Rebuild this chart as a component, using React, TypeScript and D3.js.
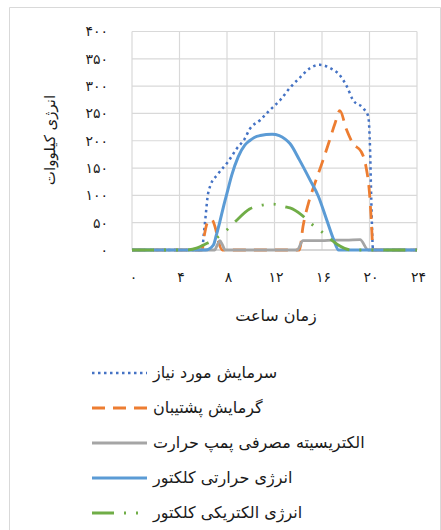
import { useEffect, useRef } from 'react';
import * as d3 from 'd3';

type Pt = [number, number];

// hour, kW
const coolingDemand: Pt[] = [
  [0, 0], [5.9, 0], [6.05, 30], [6.2, 62], [6.35, 95], [6.6, 118], [7.2, 138], [8.1, 162],
  [8.8, 185], [9.5, 204], [9.9, 221], [10.8, 238], [11.6, 256], [12.5, 275], [13.3, 297],
  [14.2, 317], [15, 333], [15.8, 339], [16.7, 333], [17.5, 320], [18.1, 299], [18.6, 275],
  [19.5, 259], [19.9, 244], [20.05, 183], [20.15, 92], [20.3, 0], [24, 0],
];
const backupHeating: Pt[] = [
  [0, 0], [5.9, 0], [6.1, 28], [6.35, 50], [6.7, 56], [7.0, 42], [7.3, 14], [7.6, 0],
  [14.1, 0], [14.4, 43], [14.85, 85], [15.4, 122], [16, 159], [16.55, 195], [17.1, 232],
  [17.5, 255], [18.07, 220], [18.6, 195], [19.3, 180], [19.7, 153], [20, 104], [20.15, 55],
  [20.3, 0], [24, 0],
];
const heatPumpPower: Pt[] = [
  [0, 0], [6.95, 0], [7.2, 10], [7.4, 17], [7.6, 10], [7.85, 0], [13.9, 0], [14.4, 17],
  [16, 17], [17, 18], [18, 18], [19.2, 19], [19.9, 0], [24, 0],
];
const collectorThermal: Pt[] = [
  [0, 0], [6.2, 0], [6.85, 9], [7.1, 27], [7.4, 52], [7.7, 79], [8, 104], [8.4, 137],
  [8.95, 171], [9.5, 192], [9.9, 200], [10.3, 206], [10.8, 209.5], [11.8, 212], [12.4, 209.5],
  [12.9, 203], [13.3, 195], [14.1, 165], [15, 128], [15.7, 98], [16.4, 55], [17, 18],
  [17.4, 0], [24, 0],
];
const collectorElectric: Pt[] = [
  [0, 0], [4.5, 0], [5.5, 4], [6.2, 11], [6.85, 18], [8, 37], [8.7, 52], [9.9, 75],
  [10.9, 82], [11.9, 84], [12.9, 79], [13.3, 77], [14.3, 64], [15.1, 48], [16, 33],
  [16.7, 20], [17.3, 10], [17.9, 3], [18.5, 0], [24, 0],
];

const seriesNames = [
  'سرمایش مورد نیاز',
  'گرمایش پشتیبان',
  'الکتریسیته مصرفی پمپ حرارت',
  'انرژی حرارتی کلکتور',
  'انرژی الکتریکی کلکتور',
];
const xTicks = [0, 4, 8, 12, 16, 20, 24];
const yTicks = [0, 50, 100, 150, 200, 250, 300, 350, 400];
const xTitle = 'زمان ساعت';
const yTitle = 'انرژی کیلووات';

const FONT = '"DejaVu Sans", sans-serif';
const TEXT = '#1a1a1a';
const faDigits = (n: number) => String(n).replace(/\d/g, d => '۰۱۲۳۴۵۶۷۸۹'[+d]);

export default function App() {
  const svgRef = useRef<SVGSVGElement>(null);

  useEffect(() => {
    if (!svgRef.current) return;
    const svg = d3.select(svgRef.current);
    svg.selectAll('*').remove();

    const x = d3.scaleLinear().domain([0, 24]).range([132, 417]);
    const y = d3.scaleLinear().domain([0, 400]).range([250, 31.5]);

    // outer chart border
    svg.append('path')
      .attr('d', 'M9.5,540 V7.5 H440.5 V540')
      .attr('fill', 'none')
      .attr('stroke', '#d9d9d9');

    // grid
    yTicks.forEach(t => {
      svg.append('line')
        .attr('x1', x(0)).attr('x2', x(24))
        .attr('y1', y(t)).attr('y2', y(t))
        .attr('stroke', '#d9d9d9').attr('stroke-width', 1.2);
    });
    xTicks.forEach(t => {
      svg.append('line')
        .attr('x1', x(t)).attr('x2', x(t))
        .attr('y1', y(0)).attr('y2', y(400))
        .attr('stroke', '#d9d9d9').attr('stroke-width', 1.2);
    });
    svg.append('line')
      .attr('x1', x(0)).attr('x2', x(24))
      .attr('y1', y(0)).attr('y2', y(0))
      .attr('stroke', '#bfbfbf').attr('stroke-width', 1.2);

    // tick labels
    yTicks.forEach(t => {
      svg.append('text')
        .attr('x', 108).attr('y', y(t))
        .attr('dy', '0.35em')
        .attr('text-anchor', 'end')
        .style('font-family', FONT).style('font-size', '14px').style('letter-spacing', '3px')
        .attr('fill', TEXT)
        .text(faDigits(t));
    });
    xTicks.forEach(t => {
      svg.append('text')
        .attr('x', x(t) + 1.5).attr('y', 277)
        .attr('dy', '0.35em')
        .attr('text-anchor', 'middle')
        .style('font-family', FONT).style('font-size', '14px').style('letter-spacing', '3px')
        .attr('fill', TEXT)
        .text(faDigits(t));
    });

    // axis titles
    svg.append('text')
      .attr('transform', 'translate(50,140) rotate(-90)')
      .attr('dy', '0.35em')
      .attr('text-anchor', 'middle')
      .style('font-family', FONT).style('font-size', '15px').attr('fill', TEXT)
      .text(yTitle);
    svg.append('text')
      .attr('x', 276).attr('y', 315)
      .attr('dy', '0.35em')
      .attr('text-anchor', 'middle')
      .style('font-family', FONT).style('font-size', '16px').attr('fill', TEXT)
      .text(xTitle);

    const styles = [
      { data: coolingDemand, color: '#4472c4', width: 2.5, dash: '2.5,3.5' },
      { data: backupHeating, color: '#ed7d31', width: 2.8, dash: '13,8' },
      { data: heatPumpPower, color: '#a5a5a5', width: 2.8, dash: null },
      { data: collectorThermal, color: '#5b9bd5', width: 3, dash: null },
      { data: collectorElectric, color: '#70ad47', width: 2.8, dash: '22,10,2,10,2,10' },
    ];

    const line = d3.line<Pt>()
      .x(d => x(d[0]))
      .y(d => y(d[1]))
      .curve(d3.curveMonotoneX);

    styles.forEach(s => {
      svg.append('path')
        .attr('d', line(s.data))
        .attr('fill', 'none')
        .attr('stroke', s.color)
        .attr('stroke-width', s.width)
        .attr('stroke-dasharray', s.dash)
        .attr('stroke-linejoin', 'round');
    });

    // legend
    seriesNames.forEach((name, i) => {
      const cy = 373 + i * 35;
      const s = styles[i];
      svg.append('line')
        .attr('x1', 92).attr('x2', 147)
        .attr('y1', cy).attr('y2', cy)
        .attr('stroke', s.color)
        .attr('stroke-width', s.width)
        .attr('stroke-dasharray', s.dash);
      svg.append('text')
        .attr('x', 153).attr('y', cy)
        .attr('dy', '0.3em')
        .attr('text-anchor', 'start')
        .style('font-family', FONT).style('font-size', '16px').attr('fill', TEXT)
        .text(name);
    });
  }, []);

  return (
    <>
      <style>{`body { margin: 0; }`}</style>
      <svg ref={svgRef} width={441} height={530} style={{ display: 'block', background: '#fff' }} />
    </>
  );
}
